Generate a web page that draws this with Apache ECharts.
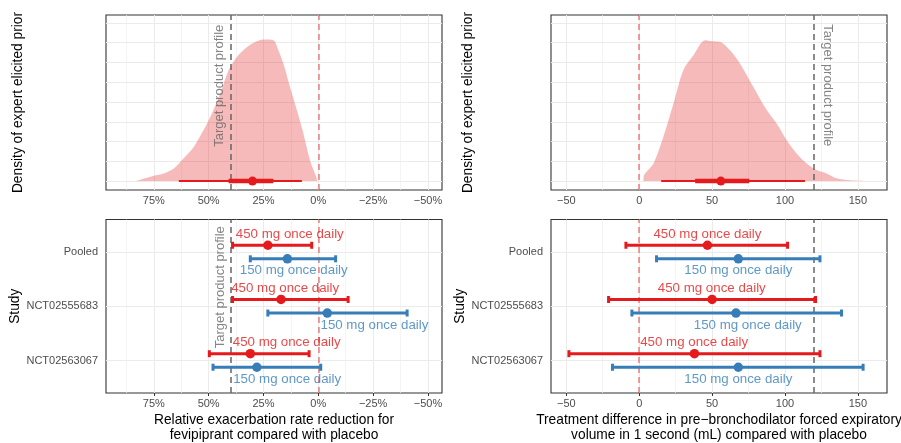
<!DOCTYPE html>
<html>
<head>
<meta charset="utf-8">
<script src="https://cdn.jsdelivr.net/npm/echarts@6/dist/echarts.min.js"></script>
<style>
html, body { margin: 0; padding: 0; background: #fff; }
#chart { width: 901px; height: 443px; }
</style>
</head>
<body>
<div id="chart"></div>
<script>
// studies, top to bottom
const studies = ['Pooled', 'NCT02555683', 'NCT02563067'];
const studyPos = [3, 2, 1];

// expert elicited prior densities (relative height)
const priorExaX = [83.3, 75, 70.5, 65.9, 61.4, 56.8, 52.3, 48.5, 44.7, 40.9, 37.1, 32.5, 28, 25, 20.5, 18.2, 15.9, 12.9, 9.8, 6.8, 3.8, 1, 0.5];
const priorExaY = [0, 0.27, 0.39, 0.64, 1.15, 1.73, 2.58, 3.42, 4.43, 5.61, 6.28, 6.78, 7.07, 7.16, 7.12, 6.62, 5.94, 4.76, 3.59, 2.41, 1.06, 0.22, 0];
const priorFevX = [2.9, 3.0, 9.8, 16.6, 23.5, 30.3, 37.2, 45.2, 49.8, 55.5, 62.3, 69.2, 78.3, 87.5, 94.3, 101.2, 108, 114.9, 121.7, 128.6, 135.4, 144.5, 158.2];
const priorFevY = [0, 0.22, 0.89, 2.24, 3.92, 5.61, 6.36, 7.12, 7.07, 7.04, 6.62, 5.94, 4.76, 3.59, 2.91, 2.07, 1.40, 0.89, 0.56, 0.39, 0.14, 0.04, 0];

// prior median with 66% and 95% intervals
const priorExaMedian = 30;
const priorExaInner = [40.9, 20.5];
const priorExaOuter = [63.6, 7.5];
const priorFevMedian = 56;
const priorFevInner = [38.4, 75.5];
const priorFevOuter = [15.1, 113.7];

// target product profile
const exaTarget = 40;
const fevTarget = 120;

// relative exacerbation rate reduction (%)
const exa450Est = [23, 17, 31];
const exa450Lo = [39.1, 39.1, 49.7];
const exa450Hi = [3, -13.6, 4.2];
const exa150Est = [14.1, -4.1, 28];
const exa150Lo = [31, 23, 48];
const exa150Hi = [-7.9, -40.5, -1.1];

// FEV1 treatment difference (mL)
const fev450Est = [46.8, 50, 37.9];
const fev450Lo = [-9.1, -21, -48.2];
const fev450Hi = [101.8, 121, 124];
const fev150Est = [68, 66.4, 68];
const fev150Lo = [11.9, -5, -18.3];
const fev150Hi = [124, 138.8, 153.6];

// where the dose labels sit along x
const exaLabel450X = [13, 15.1, 14.4];
const exaLabel150X = [11.2, -25.6, 14.2];
const fevLabel450X = [46.8, 49.8, 37.7];
const fevLabel150X = [68, 74.5, 68];

// tick values
const exaTicks = [75, 50, 25, 0, -25, -50];
const exaMinor = [87.5, 62.5, 37.5, 12.5, -12.5, -37.5];
const fevTicks = [-50, 0, 50, 100, 150];
const fevMinor = [-25, 25, 75, 125];
const densityGrid = [0, 1, 2, 3, 4, 5, 6, 7, 8];

const RED = '#E41A1C';
const BLUE = '#377EB8';
const FONT = '"Liberation Sans", Arial, sans-serif';
const DODGE = 0.125;

const pct = v => (v + '%').replace('-', '\u2212');
const num = v => String(v).replace('-', '\u2212');
const titleStyle = { color: '#000', fontSize: 13.75, fontFamily: FONT, lineHeight: 14.5 };

function makeGrid(left, top, height) {
    return {
        left: left, top: top, width: 336, height: height,
        show: true, borderColor: '#333333', borderWidth: 1.1,
        backgroundColor: 'transparent', containLabel: false, outerBoundsMode: 'none'
    };
}

function makeX(gi, min, max, inverse, ticks, fmt, name) {
    return {
        type: 'value', gridIndex: gi, min: min, max: max, inverse: inverse,
        axisLine: { show: false },
        axisTick: { show: true, length: 3, customValues: ticks, lineStyle: { color: '#333', width: 1 } },
        axisLabel: { customValues: ticks, formatter: fmt, color: '#4D4D4D', fontSize: 11, fontFamily: FONT, margin: 5 },
        splitLine: { show: false },
        name: name, nameLocation: 'middle', nameGap: 20, nameTextStyle: titleStyle
    };
}

function makeDensityY(gi, gap) {
    return {
        type: 'value', gridIndex: gi, min: -0.45, max: 8.4,
        axisLine: { show: false }, axisTick: { show: false }, axisLabel: { show: false },
        splitLine: { show: false },
        name: 'Density of expert elicited prior', nameLocation: 'middle', nameGap: gap, nameRotate: 90,
        nameTextStyle: titleStyle
    };
}

function makeStudyY(gi, gap) {
    return {
        type: 'value', gridIndex: gi, min: 0.4, max: 3.6,
        axisLine: { show: false },
        axisTick: { show: true, length: 3, customValues: studyPos, lineStyle: { color: '#333', width: 1 } },
        axisLabel: {
            customValues: studyPos, formatter: v => studies[studyPos.indexOf(v)],
            color: '#4D4D4D', fontSize: 11, fontFamily: FONT, margin: 8
        },
        splitLine: { show: false },
        name: 'Study', nameLocation: 'middle', nameGap: gap, nameRotate: 90, nameTextStyle: titleStyle
    };
}

function gridLines(i, major, minor, hLines) {
    let lines = [];
    major.forEach(v => lines.push({ xAxis: v, lineStyle: { color: '#EBEBEB', width: 1, type: 'solid' } }));
    minor.forEach(v => lines.push({ xAxis: v, lineStyle: { color: '#EFEFEF', width: 0.7, type: 'solid' } }));
    hLines.forEach(v => lines.push({ yAxis: v, lineStyle: { color: '#EBEBEB', width: 1, type: 'solid' } }));
    return {
        type: 'line', xAxisIndex: i, yAxisIndex: i, data: [], z: 1, silent: true,
        markLine: { silent: true, symbol: 'none', z: 1, animation: false, label: { show: false }, data: lines }
    };
}

function refLines(i, target) {
    return {
        type: 'line', xAxisIndex: i, yAxisIndex: i, data: [], z: 3, silent: true,
        markLine: {
            silent: true, symbol: 'none', z: 3, animation: false, label: { show: false },
            data: [
                { xAxis: 0, lineStyle: { color: 'rgba(228,26,28,0.55)', width: 1.5, type: [6, 4] } },
                { xAxis: target, lineStyle: { color: '#666666', width: 1.5, type: [6, 4] } }
            ]
        }
    };
}

function density(i, xs, ys) {
    return {
        type: 'line', xAxisIndex: i, yAxisIndex: i, z: 2, silent: true,
        data: xs.map((x, k) => [x, ys[k]]),
        symbol: 'none', smooth: 0.3,
        lineStyle: { width: 0 },
        areaStyle: { color: 'rgba(228,26,28,0.3)', opacity: 1 }
    };
}

function pointInterval(i, outer, inner, median) {
    return [
        {
            type: 'line', xAxisIndex: i, yAxisIndex: i, z: 4, silent: true, symbol: 'none',
            data: outer.map(v => [v, 0]), lineStyle: { color: RED, width: 2 }
        },
        {
            type: 'line', xAxisIndex: i, yAxisIndex: i, z: 4, silent: true, symbol: 'none',
            data: inner.map(v => [v, 0]), lineStyle: { color: RED, width: 4.5 }
        },
        {
            type: 'scatter', xAxisIndex: i, yAxisIndex: i, z: 5, silent: true,
            data: [[median, 0]], symbolSize: 9, itemStyle: { color: RED, opacity: 1 }
        }
    ];
}

// label offset is applied in the rotated frame, so the sideways shift goes in offset[1]
function targetLabel(i, x, y, rotate, side) {
    return {
        type: 'scatter', xAxisIndex: i, yAxisIndex: i, z: 4, silent: true,
        data: [[x, y]], symbolSize: 0, itemStyle: { color: 'transparent' },
        label: {
            show: true, position: 'inside', formatter: 'Target product profile', rotate: rotate,
            offset: [0, side], color: '#666666', fontSize: 13, fontFamily: FONT
        }
    };
}

function errorBars(i, lo, hi, off, color) {
    return {
        type: 'custom', xAxisIndex: i, yAxisIndex: i, z: 4, silent: true,
        data: studyPos.map((p, k) => [p + off, lo[k], hi[k]]),
        encode: { x: [1, 2], y: 0 },
        renderItem: function (params, api) {
            let y = api.value(0);
            let a = api.coord([api.value(1), y]);
            let b = api.coord([api.value(2), y]);
            let st = { stroke: color, lineWidth: 3 };
            return {
                type: 'group', children: [
                    { type: 'line', shape: { x1: a[0], y1: a[1], x2: b[0], y2: b[1] }, style: st },
                    { type: 'line', shape: { x1: a[0], y1: a[1] - 3.5, x2: a[0], y2: a[1] + 3.5 }, style: st },
                    { type: 'line', shape: { x1: b[0], y1: b[1] - 3.5, x2: b[0], y2: b[1] + 3.5 }, style: st }
                ]
            };
        }
    };
}

function estimates(i, est, off, color) {
    return {
        type: 'scatter', xAxisIndex: i, yAxisIndex: i, z: 5, silent: true,
        data: studyPos.map((p, k) => [est[k], p + off]),
        symbolSize: 9.5, itemStyle: { color: color, opacity: 1 }
    };
}

function doseLabels(i, xs, off, color, text, dy) {
    return {
        type: 'scatter', xAxisIndex: i, yAxisIndex: i, z: 6, silent: true,
        data: studyPos.map((p, k) => [xs[k], p + off]),
        symbolSize: 0, itemStyle: { color: 'transparent' },
        label: {
            show: true, position: 'inside', formatter: text, offset: [0, dy],
            color: color, fontSize: 13.3, fontFamily: FONT
        }
    };
}

let myChart = echarts.init(document.getElementById('chart'), null, { renderer: 'canvas' });
let option = {
    animation: false,
    backgroundColor: '#ffffff',
    textStyle: { fontFamily: FONT },
    grid: [
        makeGrid(106, 15, 175),
        makeGrid(551, 15, 175),
        makeGrid(106, 219.5, 173.5),
        makeGrid(551, 219.5, 173.5)
    ],
    xAxis: [
        makeX(0, -56.4, 96.8, true, exaTicks, pct, ''),
        makeX(1, -60.5, 170, false, fevTicks, num, ''),
        makeX(2, -56.4, 96.8, true, exaTicks, pct,
            'Relative exacerbation rate reduction for\nfevipiprant compared with placebo'),
        makeX(3, -60.5, 170, false, fevTicks, num,
            'Treatment difference in pre\u2212bronchodilator forced expiratory\nvolume in 1 second (mL) compared with placebo')
    ],
    yAxis: [
        makeDensityY(0, 81),
        makeDensityY(1, 76),
        makeStudyY(2, 78.5),
        makeStudyY(3, 78.5)
    ],
    series: [
        gridLines(0, exaTicks, exaMinor, densityGrid),
        gridLines(1, fevTicks, fevMinor, densityGrid),
        gridLines(2, exaTicks, exaMinor, studyPos),
        gridLines(3, fevTicks, fevMinor, studyPos),
        density(0, priorExaX, priorExaY),
        density(1, priorFevX, priorFevY),
        refLines(0, exaTarget),
        refLines(1, fevTarget),
        refLines(2, exaTarget),
        refLines(3, fevTarget),
        ...pointInterval(0, priorExaOuter, priorExaInner, priorExaMedian),
        ...pointInterval(1, priorFevOuter, priorFevInner, priorFevMedian),
        targetLabel(0, exaTarget, 4.82, 90, -11),
        targetLabel(1, fevTarget, 4.85, -90, -13),
        targetLabel(2, exaTarget, 2.35, 90, -10.5),
        errorBars(2, exa450Lo, exa450Hi, DODGE, RED),
        errorBars(2, exa150Lo, exa150Hi, -DODGE, BLUE),
        errorBars(3, fev450Lo, fev450Hi, DODGE, RED),
        errorBars(3, fev150Lo, fev150Hi, -DODGE, BLUE),
        estimates(2, exa450Est, DODGE, RED),
        estimates(2, exa150Est, -DODGE, BLUE),
        estimates(3, fev450Est, DODGE, RED),
        estimates(3, fev150Est, -DODGE, BLUE),
        doseLabels(2, exaLabel450X, DODGE, RED, '450 mg once daily', -11),
        doseLabels(2, exaLabel150X, -DODGE, BLUE, '150 mg once daily', 12),
        doseLabels(3, fevLabel450X, DODGE, RED, '450 mg once daily', -11),
        doseLabels(3, fevLabel150X, -DODGE, BLUE, '150 mg once daily', 12)
    ]
};
myChart.setOption(option, true);
</script>
</body>
</html>
